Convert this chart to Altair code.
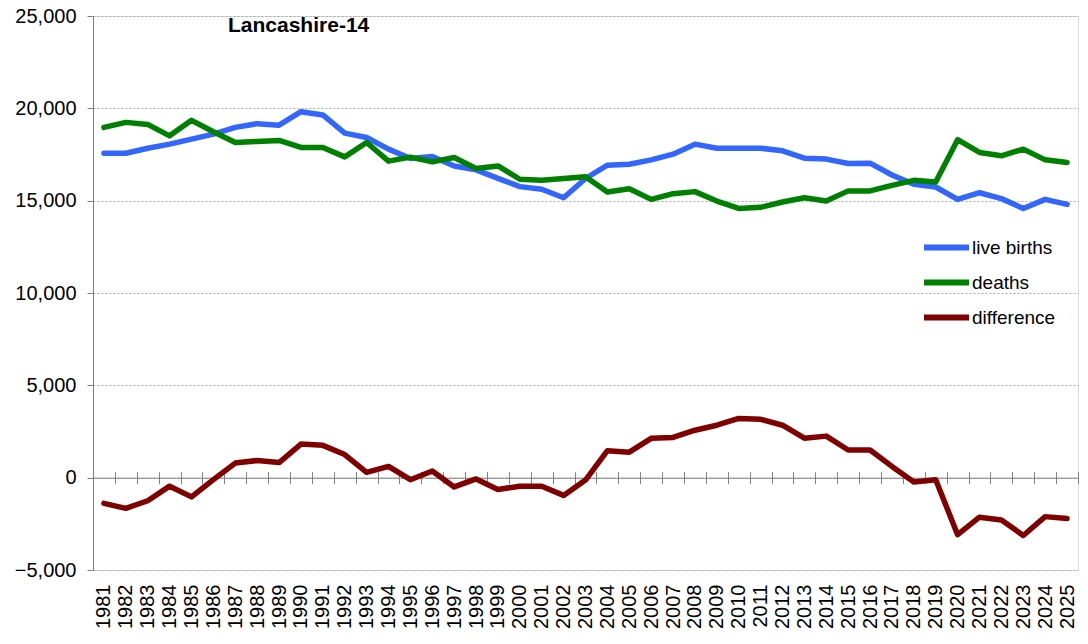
import altair as alt
import pandas as pd

years = list(range(1981, 2026))
live_births = [17570, 17570, 17840, 18060, 18330, 18600, 18970, 19170, 19090, 19820,
               19640, 18660, 18420, 17790, 17280, 17390, 16880, 16670, 16210, 15760,
               15620, 15160, 16200, 16920, 16970, 17210, 17520, 18060, 17840, 17840,
               17840, 17700, 17300, 17250, 17010, 17030, 16390, 15890, 15740, 15070,
               15430, 15110, 14580, 15070, 14800]
deaths = [18970, 19240, 19130, 18510, 19350, 18730, 18150, 18210, 18260, 17880,
          17880, 17370, 18150, 17140, 17360, 17100, 17340, 16740, 16880, 16160,
          16100, 16200, 16300, 15470, 15650, 15070, 15380, 15490, 14980, 14580,
          14640, 14930, 15160, 14980, 15530, 15530, 15830, 16100, 16010, 18300,
          17610, 17430, 17790, 17210, 17070]
difference = [-1390, -1660, -1250, -460, -1040, -110, 790, 930, 820, 1820,
              1750, 1250, 290, 610, -110, 360, -500, -70, -640, -460,
              -460, -960, -130, 1460, 1380, 2130, 2180, 2570, 2840, 3210,
              3160, 2840, 2140, 2250, 1500, 1500, 610, -230, -110, -3090,
              -2140, -2290, -3130, -2110, -2210]

series_names = ["live births", "deaths", "difference"]
series_colors = ["#3366FF", "#008000", "#800000"]
y_ticks = [-5000, 0, 5000, 10000, 15000, 20000, 25000]

rows = []
for i, yr in enumerate(years):
    for name, vals in zip(series_names, [live_births, deaths, difference]):
        rows.append({"year": yr, "series": name, "value": vals[i]})
df = pd.DataFrame(rows)

W, H = 985, 554
ymin, ymax = y_ticks[0], y_ticks[-1]
zero_from_top = H * ymax / (ymax - ymin)
zero_from_bottom = H - zero_from_top

FONT = "Liberation Sans"
GREY = "#808080"

xscale = alt.Scale(domain=[years[0] - 0.5, years[-1] + 0.5], nice=False, zero=False)
boundaries = [y - 0.5 for y in years] + [years[-1] + 0.5]
tick_df = pd.DataFrame({"b": boundaries})

lines = alt.Chart(df).mark_line(strokeWidth=5.5, strokeCap="round", strokeJoin="round").encode(
    x=alt.X("year:Q", scale=xscale,
            axis=alt.Axis(orient="bottom", values=years, format="d", labelAngle=270,
                          ticks=False, tickSize=0, domain=False, grid=False,
                          labelPadding=14, labelFontSize=20, labelColor="black",
                          labelFont=FONT, title=None, labelOverlap=False)),
    y=alt.Y("value:Q", scale=alt.Scale(domain=[ymin, ymax], nice=False, zero=False),
            axis=alt.Axis(values=y_ticks, format=",.0f", grid=True, gridColor="#aaaaaa",
                          gridDash=[2, 2], gridWidth=1, domain=True, domainColor=GREY,
                          ticks=True, tickSize=6, tickColor=GREY, labelPadding=11,
                          labelFontSize=20, labelColor="black", labelFont=FONT,
                          title=None)),
    color=alt.Color("series:N", sort=series_names,
                    scale=alt.Scale(domain=series_names, range=series_colors),
                    legend=alt.Legend(title=None, orient="none", legendX=828, legendY=214,
                                      symbolType="stroke", symbolSize=2025,
                                      symbolStrokeWidth=6, clipHeight=35, rowPadding=0,
                                      labelFontSize=19, labelOffset=0, padding=0,
                                      labelFont=FONT, labelColor="black")),
)

ticks_down = alt.Chart(tick_df).mark_point(opacity=0).encode(
    x=alt.X("b:Q", scale=xscale,
            axis=alt.Axis(orient="bottom", offset=-zero_from_bottom, values=boundaries,
                          labels=False, ticks=True, tickSize=6, tickColor=GREY,
                          domain=True, domainColor=GREY, grid=False, title=None))
)

ticks_up = alt.Chart(tick_df).mark_point(opacity=0).encode(
    x=alt.X("b:Q", scale=xscale,
            axis=alt.Axis(orient="top", offset=-zero_from_top, values=boundaries,
                          labels=False, ticks=True, tickSize=6, tickColor=GREY,
                          domain=False, grid=False, title=None))
)

chart = alt.layer(lines, ticks_down, ticks_up).resolve_scale(x="shared").resolve_axis(
    x="independent"
).properties(
    width=W, height=H,
    padding={"left": 85, "top": 8, "right": 2, "bottom": 62},
    autosize=alt.AutoSizeParams(type="none"),
    title=alt.TitleParams("Lancashire-14", anchor="start", frame="group", dx=135,
                          offset=-30, fontSize=21, fontWeight="bold", font=FONT,
                          color="black"),
).configure_view(strokeWidth=0).configure(font=FONT)

chart.save("out.html", embed_options={"renderer": "svg", "actions": False})
